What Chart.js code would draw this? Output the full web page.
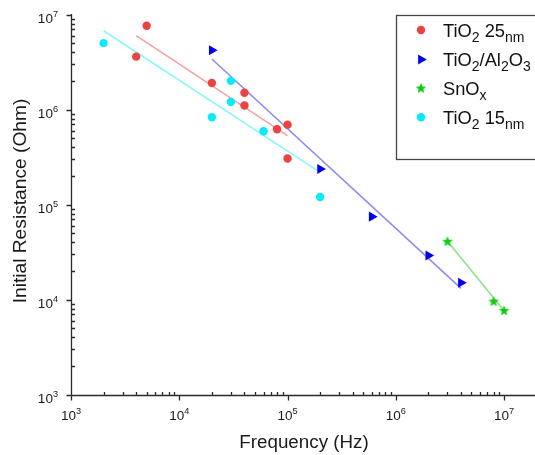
<!DOCTYPE html>
<html><head><meta charset="utf-8">
<script src="https://cdn.jsdelivr.net/npm/chart.js@4/dist/chart.umd.min.js"></script>
<style>html,body{margin:0;padding:0;background:#fff}canvas{display:block}</style>
</head><body>
<canvas id="c" width="535" height="455"></canvas>
<script>
// ---- data ----
const seriesLabels = ['TiO2 25nm', 'TiO2/Al2O3', 'SnOx', 'TiO2 15nm'];

const tio2_25_freq = [4000, 5000, 20000, 40000, 40000, 80000, 100000, 100000];
const tio2_25_res  = [3.6e6, 7.6e6, 1.9e6, 1.5e6, 1.1e6, 6.2e5, 6.9e5, 3.05e5];

const tio2al_freq = [2e4, 2e5, 6e5, 2e6, 4e6];
const tio2al_res  = [4.2e6, 2.37e5, 7.45e4, 2.9e4, 1.5e4];

const snox_freq = [3e6, 8e6, 1e7];
const snox_res  = [4.06e4, 9.5e3, 7.6e3];

const tio2_15_freq = [2000, 20000, 30000, 30000, 60000, 200000];
const tio2_15_res  = [5.0e6, 8.3e5, 2.0e6, 1.2e6, 5.9e5, 1.2e5];

// fitted lines (end points)
const fit25_freq = [4000, 1e5],  fit25_res = [6.0e6, 5.3e5];
const fit15_freq = [2000, 2e5],  fit15_res = [6.75e6, 2.18e5];
const fitAl_freq = [2e4, 4e6],   fitAl_res = [3.4e6, 1.31e4];
const fitSn_freq = [3e6, 1e7],   fitSn_res = [4.1e4, 7.6e3];

const xTickExps = [3, 4, 5, 6, 7];
const yTickExps = [3, 4, 5, 6, 7];
const xTitle = 'Frequency (Hz)';
const yTitle = 'Initial Resistance (Ohm)';

// ---- styles ----
const FONT = "'Liberation Sans', Arial, Helvetica, sans-serif";
const RED = '#EB4242', BLUE = '#0000F0', GREEN = '#10CC10', CYAN = '#08ECF8';
const RED_L = '#F4A3A3', BLUE_L = '#8C8CF0', GREEN_L = '#8CE38C', CYAN_L = '#8AF6FA';

function pts(xs, ys) { return xs.map((x, i) => ({x: x, y: ys[i]})); }

function makeStar(color) {
  const c = document.createElement('canvas');
  c.width = 14; c.height = 14;
  const g = c.getContext('2d');
  g.fillStyle = color;
  g.beginPath();
  for (let i = 0; i < 10; i++) {
    const r = i % 2 === 0 ? 5.6 : 2.4;
    const a = -Math.PI / 2 + i * Math.PI / 5;
    const px = 7 + r * Math.cos(a), py = 7 + r * Math.sin(a);
    if (i === 0) g.moveTo(px, py); else g.lineTo(px, py);
  }
  g.closePath(); g.fill();
  return c;
}
const starImg = makeStar(GREEN);

const scatterBase = {showLine: false, borderWidth: 0, order: 0};
const lineBase = {showLine: true, pointRadius: 0, borderWidth: 1.6, order: 1, fill: false};

const datasets = [
  Object.assign({label: seriesLabels[0], data: pts(tio2_25_freq, tio2_25_res), pointStyle: 'circle', pointRadius: 4.2, backgroundColor: RED, borderColor: RED}, scatterBase),
  Object.assign({label: seriesLabels[1], data: pts(tio2al_freq, tio2al_res), pointStyle: 'triangle', rotation: 90, pointRadius: 5.8, backgroundColor: BLUE, borderColor: BLUE}, scatterBase),
  Object.assign({label: seriesLabels[2], data: pts(snox_freq, snox_res), pointStyle: starImg, pointRadius: 6, backgroundColor: GREEN, borderColor: GREEN}, scatterBase),
  Object.assign({label: seriesLabels[3], data: pts(tio2_15_freq, tio2_15_res), pointStyle: 'circle', pointRadius: 4.2, backgroundColor: CYAN, borderColor: CYAN}, scatterBase),
  Object.assign({label: 'fit25', data: pts(fit25_freq, fit25_res), borderColor: RED_L}, lineBase),
  Object.assign({label: 'fitAl', data: pts(fitAl_freq, fitAl_res), borderColor: BLUE_L}, lineBase),
  Object.assign({label: 'fitSn', data: pts(fitSn_freq, fitSn_res), borderColor: GREEN_L}, lineBase),
  Object.assign({label: 'fit15', data: pts(fit15_freq, fit15_res), borderColor: CYAN_L}, lineBase)
];

function drawRich(ctx, parts, x, y, size, subSize) {
  // parts: [text, mode] mode: 0 normal, -1 sub, 1 sup
  let cx = x;
  for (const [t, m] of parts) {
    const s = m === 0 ? size : subSize;
    ctx.font = s + 'px ' + FONT;
    const dy = m === -1 ? size * 0.3 : (m === 1 ? -size * 0.42 : 0);
    ctx.fillText(t, cx, y + dy);
    cx += ctx.measureText(t).width;
  }
  return cx - x;
}
function richWidth(ctx, parts, size, subSize) {
  let w = 0;
  for (const [t, m] of parts) {
    const s = m === 0 ? size : subSize;
    ctx.font = s + 'px ' + FONT;
    w += ctx.measureText(t).width;
  }
  return w;
}

const axesPlugin = {
  id: 'axesPlugin',
  afterDatasetsDraw(chart) {
    const ctx = chart.ctx;
    const xs = chart.scales.x, ys = chart.scales.y;
    const AX = '#2a2a2a';
    ctx.save();
    ctx.strokeStyle = AX; ctx.lineWidth = 1.3; ctx.lineCap = 'butt';
    const x0 = Math.round(xs.getPixelForValue(1e3)) + 0.5;
    const yB = Math.round(ys.getPixelForValue(1e3)) + 0.5;
    const yT = ys.getPixelForValue(1e7);
    // axis lines
    ctx.beginPath();
    ctx.moveTo(x0, yT - 0.5); ctx.lineTo(x0, yB);
    ctx.moveTo(x0, yB); ctx.lineTo(chart.width, yB);
    ctx.stroke();
    // x ticks
    ctx.beginPath();
    for (let e = 3; e <= 7; e++) {
      for (let m = 1; m <= 9; m++) {
        const v = m * Math.pow(10, e);
        if (v > xs.max) break;
        const px = Math.round(xs.getPixelForValue(v)) + 0.5;
        if (m === 1) { ctx.moveTo(px, yB); ctx.lineTo(px, yB + 5); }
        else { ctx.moveTo(px, yB); ctx.lineTo(px, yB - 3.5); }
      }
    }
    // y ticks
    for (let e = 3; e <= 7; e++) {
      for (let m = 1; m <= 9; m++) {
        const v = m * Math.pow(10, e);
        if (v > ys.max) break;
        const py = Math.round(ys.getPixelForValue(v)) + 0.5;
        if (m === 1) { ctx.moveTo(x0, py); ctx.lineTo(x0 - 5, py); }
        else { ctx.moveTo(x0, py); ctx.lineTo(x0 + 3.5, py); }
      }
    }
    ctx.stroke();

    // tick labels
    ctx.fillStyle = '#1a1a1a';
    ctx.textAlign = 'left';
    ctx.textBaseline = 'alphabetic';
    const LS = 13.5, LSS = 9.2;
    for (const e of xTickExps) {
      const px = xs.getPixelForValue(Math.pow(10, e));
      const parts = [['10', 0], [String(e), 1]];
      const w = richWidth(ctx, parts, LS, LSS);
      drawRich(ctx, parts, px - w / 2, yB + 24, LS, LSS);
    }
    for (const e of yTickExps) {
      const py = ys.getPixelForValue(Math.pow(10, e));
      const parts = [['10', 0], [String(e), 1]];
      const w = richWidth(ctx, parts, LS, LSS);
      drawRich(ctx, parts, 58 - w, py + 8, LS, LSS);
    }

    // axis titles
    ctx.font = '18.8px ' + FONT;
    ctx.textAlign = 'center';
    ctx.textBaseline = 'middle';
    ctx.fillText(xTitle, 304, 443);
    ctx.save();
    ctx.translate(21, 201);
    ctx.rotate(-Math.PI / 2);
    ctx.font = '19.2px ' + FONT;
    ctx.fillText(yTitle, 0, 0);
    ctx.restore();

    // legend
    ctx.fillStyle = '#fff';
    ctx.fillRect(396.5, 15.5, 150, 144);
    ctx.strokeStyle = '#444'; ctx.lineWidth = 1.3;
    ctx.strokeRect(396.5, 15.5, 150, 144);
    const rows = [30, 59.5, 88.5, 117.3];
    const mx = 421, tx = 443, TS = 18.3, TSS = 14;
    // markers
    ctx.fillStyle = RED; ctx.beginPath(); ctx.arc(mx, rows[0], 4.2, 0, Math.PI * 2); ctx.fill();
    ctx.fillStyle = BLUE; ctx.beginPath();
    { const r = 5.8, cx = mx, cy = rows[1];
      ctx.moveTo(cx + r, cy); ctx.lineTo(cx - r / 2, cy - r * 0.866); ctx.lineTo(cx - r / 2, cy + r * 0.866); ctx.closePath(); ctx.fill(); }
    ctx.drawImage(starImg, mx - 7, rows[2] - 7);
    ctx.fillStyle = CYAN; ctx.beginPath(); ctx.arc(mx, rows[3], 4.2, 0, Math.PI * 2); ctx.fill();
    // texts
    ctx.fillStyle = '#111';
    ctx.textAlign = 'left'; ctx.textBaseline = 'alphabetic';
    const legendParts = [
      [['TiO', 0], ['2', -1], [' 25', 0], ['nm', -1]],
      [['TiO', 0], ['2', -1], ['/Al', 0], ['2', -1], ['O', 0], ['3', -1]],
      [['SnO', 0], ['x', -1]],
      [['TiO', 0], ['2', -1], [' 15', 0], ['nm', -1]]
    ];
    legendParts.forEach((p, i) => drawRich(ctx, p, tx, rows[i] + 6.5, TS, TSS));
    ctx.restore();
  }
};

new Chart(document.getElementById('c'), {
  type: 'scatter',
  data: {datasets: datasets},
  options: {
    responsive: false,
    animation: false,
    devicePixelRatio: 1,
    layout: {autoPadding: false, padding: {left: 71, top: 14.5, right: 0, bottom: 60.5}},
    plugins: {legend: {display: false}, tooltip: {enabled: false}},
    scales: {
      x: {type: 'logarithmic', min: 1e3, max: 1.93e7, display: false},
      y: {type: 'logarithmic', min: 1e3, max: 1e7, display: false}
    }
  },
  plugins: [axesPlugin]
});
</script>
</body></html>
